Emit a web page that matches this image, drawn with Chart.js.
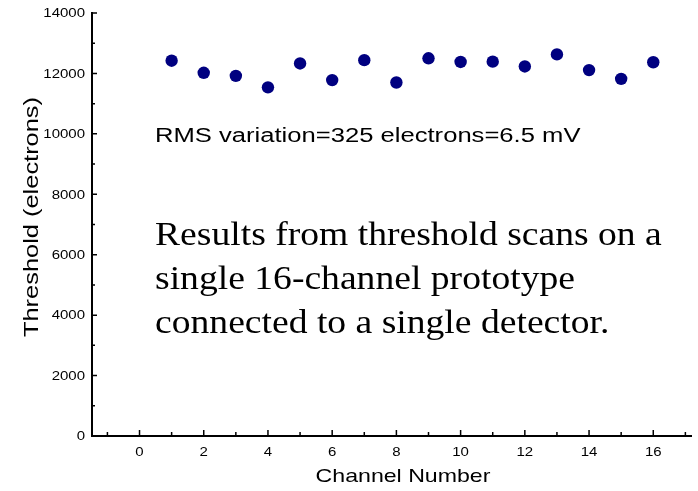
<!DOCTYPE html>
<html>
<head>
<meta charset="utf-8">
<script src="https://cdn.jsdelivr.net/npm/chart.js@4/dist/chart.umd.min.js"></script>
<style>
  body { margin: 0; background: #fff; }
  #caja { width: 698px; height: 491px; }
</style>
</head>
<body>
<div id="caja"><canvas id="graficaUmbral"></canvas></div>
<script>
// umbral medido por canal
const canales = [1, 2, 3, 4, 5, 6, 7, 8, 9, 10, 11, 12, 13, 14, 15, 16];
const umbral = [12420, 12020, 11920, 11540, 12330, 11780, 12440, 11700,
                12500, 12380, 12390, 12230, 12630, 12110, 11820, 12370];

const marcasX = [0, 2, 4, 6, 8, 10, 12, 14, 16];
const marcasXMenores = [-1, 1, 3, 5, 7, 9, 11, 13, 15, 17];
const marcasY = [0, 2000, 4000, 6000, 8000, 10000, 12000, 14000];
const marcasYMenores = [1000, 3000, 5000, 7000, 9000, 11000, 13000];

const notaRms = 'RMS variation=325 electrons=6.5 mV';
const notaLineas = [
    'Results from threshold scans on a',
    'single 16-channel prototype',
    'connected to a single detector.'
];

function texto(ctx, str, x, y, o) {
    ctx.save();
    ctx.translate(x, y);
    ctx.rotate(o.rot || 0);
    ctx.scale(o.sx || 1, 1);
    ctx.font = o.font;
    ctx.textAlign = o.align || 'left';
    ctx.textBaseline = o.base || 'alphabetic';
    ctx.fillStyle = '#000';
    ctx.fillText(str, 0, 0);
    ctx.restore();
}

// marcas hacia dentro, etiquetas y notas
const ejesYNotas = {
    id: 'ejesYNotas',
    afterDraw(chart) {
        const ctx = chart.ctx;
        const x = chart.scales.x, y = chart.scales.y;
        const a = chart.chartArea;
        ctx.save();
        ctx.strokeStyle = '#000';
        ctx.lineWidth = 1.5;
        ctx.beginPath();
        marcasX.forEach(v => { const p = x.getPixelForValue(v); ctx.moveTo(p, a.bottom); ctx.lineTo(p, a.bottom - 6); });
        marcasXMenores.forEach(v => { const p = x.getPixelForValue(v); ctx.moveTo(p, a.bottom); ctx.lineTo(p, a.bottom - 4); });
        marcasY.forEach(v => { const p = y.getPixelForValue(v); ctx.moveTo(a.left, p); ctx.lineTo(a.left + 5, p); });
        marcasYMenores.forEach(v => { const p = y.getPixelForValue(v); ctx.moveTo(a.left, p); ctx.lineTo(a.left + 3, p); });
        ctx.stroke();
        ctx.restore();

        const fTick = '12px "Liberation Sans", Arial, sans-serif';
        marcasY.forEach(v => texto(ctx, String(v), 85, y.getPixelForValue(v) + 1, { font: fTick, sx: 1.25, align: 'right', base: 'middle' }));
        marcasX.forEach(v => texto(ctx, String(v), x.getPixelForValue(v), 453, { font: fTick, sx: 1.25, align: 'center', base: 'middle' }));

        texto(ctx, 'Channel Number', 403, 482, { font: '18.5px "Liberation Sans", Arial, sans-serif', sx: 1.25, align: 'center' });
        texto(ctx, 'Threshold (electrons)', 38, 217, { font: '21px "Liberation Sans", Arial, sans-serif', sx: 1.21, align: 'center', rot: -Math.PI / 2 });

        texto(ctx, notaRms, 155, 142, { font: '20px "Liberation Sans", Arial, sans-serif', sx: 1.28 });
        notaLineas.forEach((l, i) => texto(ctx, l, 155, 245 + i * 44, { font: '33px "Liberation Serif", "Times New Roman", serif', sx: 1.14 }));
    }
};

new Chart(document.getElementById('graficaUmbral'), {
    type: 'scatter',
    data: {
        datasets: [{
            data: canales.map((c, i) => ({ x: c, y: umbral[i] })),
            backgroundColor: '#000080',
            borderWidth: 0,
            pointRadius: 6.2,
            pointHoverRadius: 6.2
        }]
    },
    options: {
        responsive: true,
        maintainAspectRatio: false,
        animation: false,
        events: [],
        layout: { padding: { top: 13, right: 0, left: 0, bottom: 0 } },
        plugins: { legend: { display: false }, tooltip: { enabled: false } },
        scales: {
            x: {
                type: 'linear',
                min: -1.48,
                max: 17.2,
                grid: { display: false },
                border: { display: true, color: '#000', width: 2 },
                ticks: { display: false },
                afterFit: s => { s.height = 55; }
            },
            y: {
                min: 0,
                max: 14000,
                grid: { display: false },
                border: { display: true, color: '#000', width: 2 },
                ticks: { display: false },
                afterFit: s => { s.width = 92; }
            }
        }
    },
    plugins: [ejesYNotas]
});
</script>
</body>
</html>
